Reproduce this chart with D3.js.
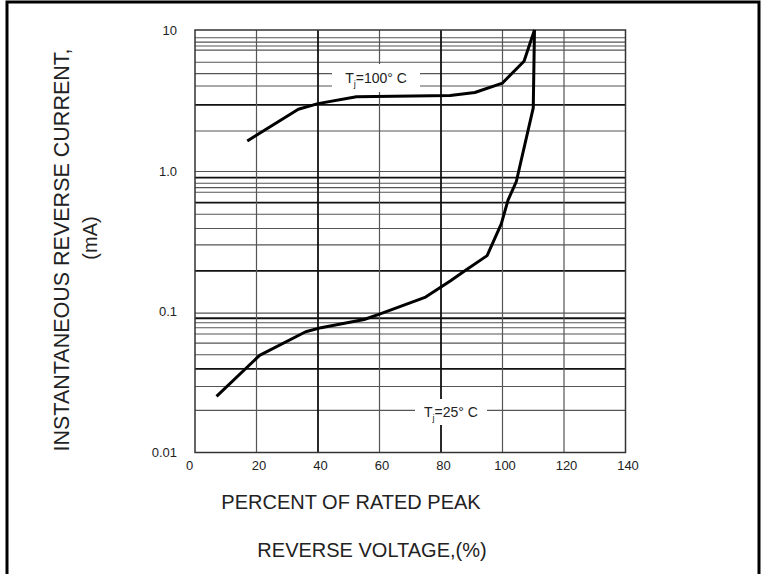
<!DOCTYPE html>
<html>
<head>
  <meta charset="utf-8">
  <title>Reverse Current vs Reverse Voltage</title>
  <script src="https://cdn.jsdelivr.net/npm/d3@7"></script>
  <style>
    body { margin: 0; background: #fff; }
    text { font-family: Arial, "Liberation Sans", sans-serif; fill: #222; }
  </style>
</head>
<body>
  <div id="chart"></div>

  <script>
    // data
    const xTicks = [0, 20, 40, 60, 80, 100, 120, 140]
    const yTicks = [0.01, 0.1, 1, 10]
    const yTickLabels = ["0.01", "0.1", "1.0", "10"]

    // the printed grid is not a clean log grid, so list what is there
    const gridY = [8.8, 8.2, 7.7, 7.2, 5.9, 4.9, 4.0, 2.94, 1.92,
                   0.99, 0.895, 0.816, 0.76, 0.705, 0.595, 0.492, 0.39, 0.298, 0.195,
                   0.0977, 0.0898, 0.0835, 0.0769, 0.0694, 0.0598, 0.0494, 0.0393, 0.0294, 0.0199]
    const gridYBold = [2.94, 0.895, 0.595, 0.195, 0.0898, 0.0393]
    const gridX = [20, 40, 60, 80, 100, 120]
    const gridXBold = [40, 80]

    const hotVoltage = [17, 33.6, 40, 52.5, 83, 91, 100, 107, 110.4]
    const hotCurrent = [1.63, 2.74, 3.0, 3.36, 3.43, 3.6, 4.2, 6.0, 10]

    const coldVoltage = [7, 21, 36, 41, 55, 60, 75, 83, 88, 95, 99.6, 101.8, 104.5, 110, 110.4]
    const coldCurrent = [0.025, 0.049, 0.072, 0.077, 0.088, 0.096, 0.127, 0.165, 0.197, 0.25, 0.42, 0.62, 0.84, 2.8, 10]

    const width = 762
    const height = 574

    const svg = d3.select("#chart")
      .append("svg")
      .attr("width", width)
      .attr("height", height)

    const x = d3.scaleLinear().domain([0, 140]).range([195, 625.5])
    const y = d3.scaleLog().domain([0.01, 10]).range([452.5, 30])

    // outer frame (open at the bottom)
    svg.append("path")
      .attr("d", `M7,574 V2 H759 V574`)
      .attr("fill", "none")
      .attr("stroke", "#000")
      .attr("stroke-width", 3)

    const grid = svg.append("g")

    grid.selectAll("line.h")
      .data(gridY)
      .enter()
      .append("line")
      .attr("class", "h")
      .attr("x1", x(0))
      .attr("x2", x(140))
      .attr("y1", d => y(d))
      .attr("y2", d => y(d))
      .attr("stroke", d => gridYBold.includes(d) ? "#111" : "#555")
      .attr("stroke-width", d => gridYBold.includes(d) ? 1.8 : 1.1)

    grid.selectAll("line.v")
      .data(gridX)
      .enter()
      .append("line")
      .attr("class", "v")
      .attr("x1", d => x(d))
      .attr("x2", d => x(d))
      .attr("y1", y(10))
      .attr("y2", y(0.01))
      .attr("stroke", d => gridXBold.includes(d) ? "#111" : "#555")
      .attr("stroke-width", d => gridXBold.includes(d) ? 1.8 : 1.2)

    grid.append("rect")
      .attr("x", x(0))
      .attr("y", y(10))
      .attr("width", x(140) - x(0))
      .attr("height", y(0.01) - y(10))
      .attr("fill", "none")
      .attr("stroke", "#333")
      .attr("stroke-width", 1.5)

    // axes, labels only
    const xAxis = svg.append("g")
      .attr("transform", `translate(0,${y(0.01)})`)
      .call(d3.axisBottom(x).tickValues(xTicks).tickSize(0).tickPadding(8))
    xAxis.select(".domain").remove()
    xAxis.selectAll("text")
      .style("font-size", "13px")
      .attr("fill", "#333")
      .attr("dx", (d, i) => i === 0 ? -6 : 2)

    const yAxis = svg.append("g")
      .attr("transform", `translate(${x(0)},0)`)
      .call(d3.axisLeft(y).tickValues(yTicks).tickSize(0).tickPadding(18)
        .tickFormat((d, i) => yTickLabels[i]))
    yAxis.select(".domain").remove()
    yAxis.selectAll("text")
      .style("font-size", "13px")
      .attr("fill", "#333")

    // curve labels sit on a white patch that cuts the grid
    function curveLabel(cx, cy, w, h, temp) {
      svg.append("rect")
        .attr("x", cx - w / 2)
        .attr("y", cy - h / 2)
        .attr("width", w)
        .attr("height", h)
        .attr("fill", "#fff")
      const t = svg.append("text")
        .attr("x", cx)
        .attr("y", cy + 5)
        .attr("text-anchor", "middle")
        .style("font-size", "14px")
      t.append("tspan").text("T")
      t.append("tspan").attr("dy", 4).style("font-size", "9px").style("fill", "#222").text("j")
      t.append("tspan").attr("dy", -4).text(`=${temp}° C`)
    }

    const line = d3.line()
      .x(d => x(d[0]))
      .y(d => y(d[1]))

    curveLabel(376, 78, 88, 28, 100)
    curveLabel(451, 412, 72, 26, 25)

    svg.append("path")
      .datum(hotVoltage.map((v, i) => [v, hotCurrent[i]]))
      .attr("d", line)
      .attr("fill", "none")
      .attr("stroke", "#000")
      .attr("stroke-width", 3)
      .attr("stroke-linejoin", "round")

    svg.append("path")
      .datum(coldVoltage.map((v, i) => [v, coldCurrent[i]]))
      .attr("d", line)
      .attr("fill", "none")
      .attr("stroke", "#000")
      .attr("stroke-width", 3)
      .attr("stroke-linejoin", "round")

    // titles
    svg.append("text")
      .attr("x", 351)
      .attr("y", 509)
      .attr("text-anchor", "middle")
      .style("font-size", "20px")
      .text("PERCENT OF RATED PEAK")

    svg.append("text")
      .attr("x", 372)
      .attr("y", 557)
      .attr("text-anchor", "middle")
      .style("font-size", "20px")
      .text("REVERSE VOLTAGE,(%)")

    svg.append("text")
      .attr("transform", "translate(69,250) rotate(-90)")
      .attr("text-anchor", "middle")
      .style("font-size", "21.5px")
      .text("INSTANTANEOUS REVERSE CURRENT,")

    svg.append("text")
      .attr("transform", "translate(97,238) rotate(-90)")
      .attr("text-anchor", "middle")
      .style("font-size", "20px")
      .text("(mA)")
  </script>
</body>
</html>
